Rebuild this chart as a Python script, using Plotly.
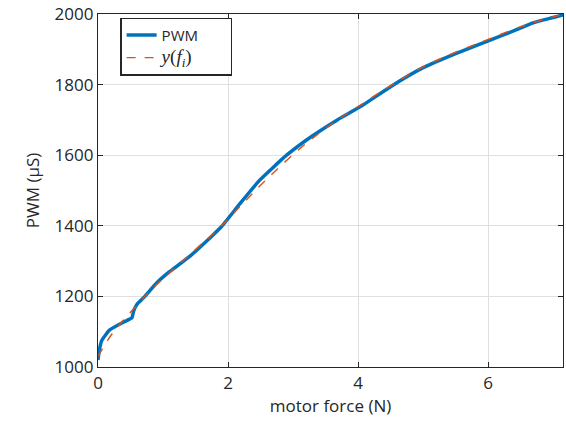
import plotly.graph_objects as go

force = [0.0, 0.02, 0.06, 0.18, 0.39, 0.52, 0.55, 0.6, 0.72, 0.9, 1.1, 1.42, 1.7, 1.9, 2.18, 2.49, 2.9, 3.3, 3.68,
         4.03, 4.54, 5.0, 5.5, 6.03, 6.4, 6.69, 7.0, 7.2]
pwm = [1020, 1048, 1076, 1105, 1127, 1139, 1160, 1178, 1200, 1238, 1270, 1315, 1362, 1398, 1462, 1530, 1600, 1655, 1700,
       1737, 1799, 1848, 1888, 1926, 1953, 1975, 1990, 2000]

fit_force = [0.0, 0.2, 0.4, 0.6, 0.8, 1.0, 1.3, 1.6, 1.9, 2.2, 2.5, 2.8, 3.1, 3.4, 3.7, 4.0, 4.5, 5.0, 5.5, 6.0, 6.5, 7.0, 7.2]
fit_pwm = [1030, 1090, 1135, 1175, 1215, 1250, 1300, 1350, 1400, 1458, 1515, 1568, 1618, 1662, 1702, 1738, 1797, 1850, 1892, 1928, 1964, 1992, 2000]

pad = "&nbsp;" * 7

fig = go.Figure()
fig.add_trace(go.Scatter(x=force, y=pwm, mode="lines", name="PWM" + pad,
                         line=dict(color="#0072BD", width=3.5, shape="spline", smoothing=0.4)))
fig.add_trace(go.Scatter(x=fit_force, y=fit_pwm, mode="lines",
                         name="<span style='font-family:Liberation Serif;font-size:19px'><i>y</i>(<i>f</i><sub><i>i</i></sub>)</span>",
                         line=dict(color="#D95319", width=1.4, dash="dash", shape="spline")))

axis_common = dict(showline=True, linecolor="#262626", linewidth=1.3, mirror="ticks",
                   ticks="inside", ticklen=5, tickcolor="#262626",
                   showgrid=True, gridcolor="#DFDFDF", gridwidth=1, zeroline=False,
                   tickfont=dict(family="Open Sans", size=17, color="#262626"))

fig.update_layout(
    width=566, height=432,
    margin=dict(l=98, r=3, t=14, b=65),
    paper_bgcolor="white", plot_bgcolor="white",
    xaxis=dict(range=[0, 7.15], tickvals=[0, 2, 4, 6], ticktext=["0", "2", "4", "6"],
               title=dict(text="motor force (N)", font=dict(family="Open Sans", size=17, color="#262626"), standoff=4),
               **axis_common),
    yaxis=dict(range=[1000, 2000], tickvals=[1000, 1200, 1400, 1600, 1800, 2000],
               title=dict(text="PWM (µS)", font=dict(family="Open Sans", size=17, color="#262626"), standoff=10),
               **axis_common),
    legend=dict(x=0.048, y=0.99, xanchor="left", yanchor="top",
                bgcolor="white", bordercolor="#262626", borderwidth=1.3,
                font=dict(family="Open Sans", size=15, color="#262626"),
                itemwidth=30, tracegroupgap=0),
    showlegend=True,
)
fig.write_html("out.html")
